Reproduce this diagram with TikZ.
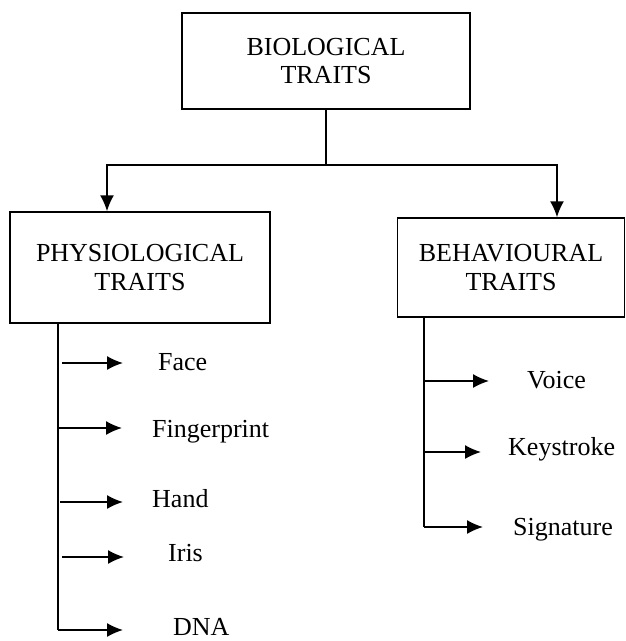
\documentclass[tikz,border=0pt]{standalone}
\usepackage{fontspec}
\setmainfont{Liberation Serif}
\usetikzlibrary{arrows.meta}
\begin{document}
\begin{tikzpicture}[x=1pt,y=-1pt,
  box/.style={draw, line width=1.5pt, align=center, inner sep=0pt, font=\fontsize{26}{28.5}\selectfont},
  lbl/.style={anchor=base west, inner sep=0pt, font=\fontsize{26}{28}\selectfont},
  ln/.style={line width=1.5pt},
  arr/.style={line width=1.5pt, -{Latex[length=16pt,width=14pt]}}]
\useasboundingbox (0,0) rectangle (626,641);
\node[box, minimum width=288pt, minimum height=96pt] (top) at (326,61) {BIOLOGICAL\\TRAITS};
\node[box, minimum width=260pt, minimum height=111pt] (phys) at (140,267.5) {PHYSIOLOGICAL\\TRAITS};
\node[box, minimum width=227pt, minimum height=99pt] (behav) at (511,267.5) {BEHAVIOURAL\\TRAITS};
\coordinate (mid) at (326,165);
\coordinate (L) at (107,165);
\coordinate (R) at (557,165);
\draw[ln] (top.south -| mid) -- (mid);
\draw[arr] (mid) -- (L) -- (L |- phys.north);
\draw[arr] (mid) -- (R) -- (R |- behav.north);
% left list
\node[lbl] (face) at (158,370) {Face};
\node[lbl] (finger) at (152,437) {Fingerprint};
\node[lbl] (hand) at (152,507) {Hand};
\node[lbl] (iris) at (168,561) {Iris};
\node[lbl] (dna) at (173,635) {DNA};
\coordinate (ltop) at (58,323);
\coordinate (lbot) at (58,630);
\draw[ln] (ltop) -- (lbot);
\draw[arr] (62,363) -- (123,363);
\draw[arr] (58,428) -- (122,428);
\draw[arr] (60,502) -- (123,502);
\draw[arr] (62,557) -- (124,557);
\draw[arr] (lbot) -- (123,630);
% right list
\node[lbl] (voice) at (527,388) {Voice};
\node[lbl] (key) at (508,455) {Keystroke};
\node[lbl] (sig) at (513,535) {Signature};
\coordinate (rtop) at (424,317);
\coordinate (rbot) at (424,527);
\draw[ln] (rtop) -- (rbot);
\draw[arr] (424,381) -- (489,381);
\draw[arr] (424,452) -- (481,452);
\draw[arr] (rbot) -- (483,527);
\end{tikzpicture}
\end{document}
